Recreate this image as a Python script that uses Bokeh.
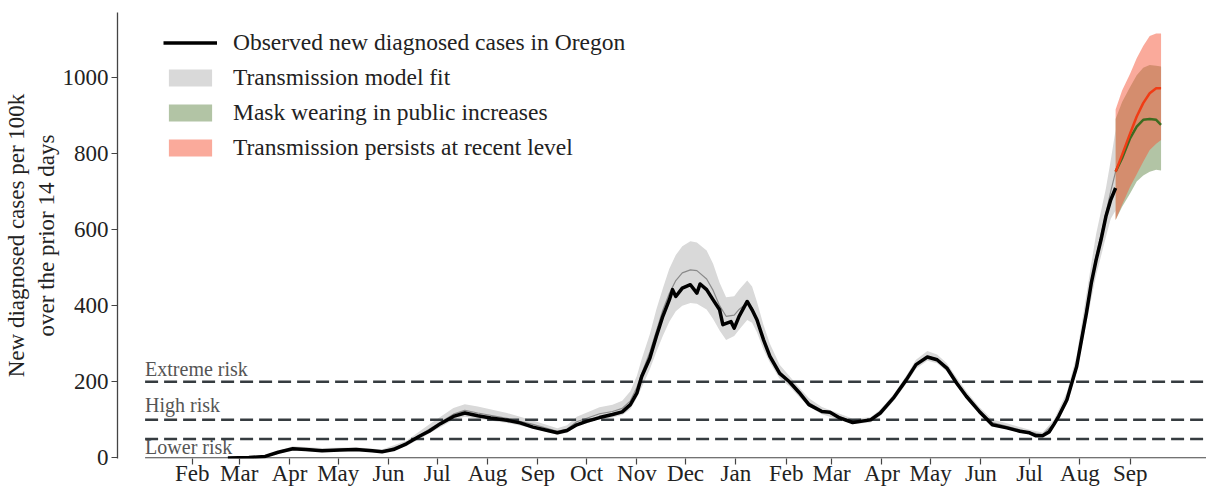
import pandas as pd
from bokeh.plotting import figure
from bokeh.models import Range1d, FixedTicker, Legend, LegendItem
from bokeh.embed import file_html
from bokeh.resources import INLINE
from bokeh.core.properties import value

FONT = "Liberation Serif"

# ---------------- data ----------------
obs_dates = ["2020-02-23","2020-03-07","2020-03-17","2020-03-25","2020-04-03","2020-04-11","2020-04-21",
             "2020-05-02","2020-05-12","2020-05-22","2020-05-28","2020-06-04","2020-06-12","2020-06-20",
             "2020-06-26","2020-07-03","2020-07-11","2020-07-18","2020-07-26","2020-08-03","2020-08-13",
             "2020-08-21","2020-08-29","2020-09-07","2020-09-13","2020-09-19","2020-09-25","2020-10-01",
             "2020-10-09","2020-10-17","2020-10-23","2020-10-28","2020-11-01","2020-11-04","2020-11-09",
             "2020-11-13","2020-11-17","2020-11-21","2020-11-23","2020-11-25","2020-11-29","2020-12-04",
             "2020-12-08","2020-12-10","2020-12-14","2020-12-18","2020-12-22","2020-12-24","2020-12-29",
             "2020-12-31","2021-01-03","2021-01-08","2021-01-11","2021-01-14","2021-01-18","2021-01-22",
             "2021-01-28","2021-02-03","2021-02-09","2021-02-15","2021-02-23","2021-02-28","2021-03-06",
             "2021-03-14","2021-03-25","2021-03-31","2021-04-08","2021-04-16","2021-04-22","2021-04-29",
             "2021-05-05","2021-05-11","2021-05-17","2021-05-23","2021-05-31","2021-06-08","2021-06-17",
             "2021-06-25","2021-07-01","2021-07-05","2021-07-09","2021-07-13","2021-07-16","2021-07-19",
             "2021-07-24","2021-07-27","2021-07-30","2021-08-02","2021-08-05","2021-08-08","2021-08-11",
             "2021-08-14","2021-08-17","2021-08-20","2021-08-23"]
obs_vals = [0, 1, 4, 15, 24, 22, 19, 21, 22, 19,
            16, 22, 37, 57, 70, 90, 109, 118, 111, 105,
            99, 92, 81, 72, 66, 72, 87, 96, 106, 114,
            121, 140, 170, 214, 262, 319, 372, 415, 442, 424,
            446, 455, 433, 457, 442, 415, 389, 350, 358, 341,
            372, 411, 389, 363, 311, 267, 222, 200, 172, 140,
            122, 120, 105, 93, 100, 118, 157, 205, 245, 265,
            258, 236, 197, 162, 122, 87, 79, 70, 66, 58,
            58, 68, 88, 110, 153, 197, 240, 310, 380, 459,
            520, 573, 634, 678, 709]

fit_dates = ["2020-02-29","2020-03-17","2020-04-03","2020-04-21","2020-05-12","2020-05-28","2020-06-12",
             "2020-06-26","2020-07-11","2020-07-18","2020-07-26","2020-08-13","2020-08-29","2020-09-13",
             "2020-09-19","2020-09-25","2020-10-09","2020-10-17","2020-10-23","2020-10-28","2020-11-01",
             "2020-11-04","2020-11-09","2020-11-13","2020-11-17","2020-11-21","2020-11-25","2020-11-29",
             "2020-12-04","2020-12-08","2020-12-14","2020-12-18","2020-12-22","2020-12-26","2020-12-31",
             "2021-01-03","2021-01-08","2021-01-11","2021-01-14","2021-01-18","2021-01-22","2021-01-28",
             "2021-02-03","2021-02-09","2021-02-15","2021-02-23","2021-03-06","2021-03-14","2021-03-25",
             "2021-03-31","2021-04-08","2021-04-16","2021-04-22","2021-04-29","2021-05-05","2021-05-11",
             "2021-05-17","2021-05-23","2021-05-31","2021-06-08","2021-06-17","2021-06-25","2021-07-01",
             "2021-07-09","2021-07-16","2021-07-24","2021-07-30","2021-08-05","2021-08-11","2021-08-17",
             "2021-08-20","2021-08-23"]
fit_mid = [0, 4, 25, 21, 23, 17, 38, 75, 115, 125, 118, 104, 88, 70, 76, 95, 116, 122, 130, 150, 185,
           222, 278, 333, 388, 432, 466, 486, 494, 492, 470, 440, 400, 372, 375, 390, 408, 395, 360, 310,
           270, 225, 200, 172, 145, 125, 108, 96, 100, 118, 157, 205, 245, 267, 260, 238, 200, 165, 125,
           93, 83, 74, 67, 61, 90, 157, 247, 392, 532, 642, 700, 752]
fit_lo = [0, 2, 20, 16, 18, 13, 31, 64, 100, 108, 103, 92, 78, 61, 66, 83, 101, 106, 113, 128, 158,
          185, 233, 278, 320, 358, 385, 400, 407, 405, 390, 365, 335, 310, 320, 337, 362, 355, 330, 285,
          250, 208, 188, 160, 135, 115, 100, 89, 93, 110, 148, 195, 234, 255, 249, 227, 190, 156, 117,
          86, 76, 67, 61, 55, 81, 141, 225, 355, 480, 580, 628, 650]
fit_hi = [2, 7, 31, 26, 28, 22, 45, 88, 131, 141, 135, 118, 98, 78, 86, 108, 133, 140, 150, 175, 215,
          260, 325, 390, 445, 497, 533, 556, 569, 566, 545, 510, 460, 422, 425, 442, 466, 450, 410, 350,
          300, 245, 215, 185, 157, 134, 116, 103, 107, 127, 166, 216, 258, 281, 272, 249, 211, 175, 134,
          101, 91, 81, 74, 67, 100, 173, 270, 430, 588, 708, 782, 862]

proj_dates = ["2021-08-23","2021-08-27","2021-09-01","2021-09-05","2021-09-09","2021-09-13","2021-09-17","2021-09-20"]
mask_mid = [752, 787, 840, 870, 888, 890, 888, 875]
mask_lo = [625, 660, 695, 726, 742, 752, 757, 755]
mask_hi = [890, 935, 975, 1005, 1025, 1032, 1030, 1028]
persist_mid = [752, 796, 853, 897, 932, 958, 971, 971]
persist_lo = [625, 665, 713, 745, 778, 809, 825, 835]
persist_hi = [915, 965, 1010, 1050, 1082, 1108, 1115, 1115]

risk_levels = [200, 100, 50]
risk_labels = ["Extreme risk", "High risk", "Lower risk"]
risk_label_y = [216, 120, 11]

month_ticks = ["2020-02-01","2020-03-01","2020-04-01","2020-05-01","2020-06-01","2020-07-01","2020-08-01",
               "2020-09-01","2020-10-01","2020-11-01","2020-12-01","2021-01-01","2021-02-01","2021-03-01",
               "2021-04-01","2021-05-01","2021-06-01","2021-07-01","2021-08-01","2021-09-01"]
month_labels = ["Feb","Mar","Apr","May","Jun","Jul","Aug","Sep","Oct","Nov","Dec","Jan","Feb","Mar",
                "Apr","May","Jun","Jul","Aug","Sep"]
y_ticks = [0, 200, 400, 600, 800, 1000]

series_labels = ["Observed new diagnosed cases in Oregon", "Transmission model fit",
                 "Mask wearing in public increases", "Transmission persists at recent level"]
y_label = "New diagnosed cases per 100k\nover the prior 14 days"

# ---------------- figure ----------------
x_start = pd.Timestamp("2019-12-17")
x_end = pd.Timestamp("2021-10-18")
line_start = pd.Timestamp("2020-01-03")

p = figure(width=1206, height=488, output_backend="svg", toolbar_location=None,
           x_axis_type="datetime",
           x_range=Range1d(x_start, x_end), y_range=Range1d(-1.5, 1170),
           min_border_left=117, min_border_right=0, min_border_top=12, min_border_bottom=28)
p.outline_line_color = None
p.grid.visible = False
p.background_fill_color = "white"

od = pd.to_datetime(obs_dates)
fd = pd.to_datetime(fit_dates)
pdts = pd.to_datetime(proj_dates)

r_fit = p.varea(x=fd, y1=fit_lo, y2=fit_hi, fill_color="#d9d9d9")
p.line(x=fd, y=fit_mid, line_color="#8a8a8a", line_width=1.2)

r_mask = p.varea(x=pdts, y1=mask_lo, y2=mask_hi, fill_color="#65894b", fill_alpha=0.5)
r_pers = p.varea(x=pdts, y1=persist_lo, y2=persist_hi, fill_color="#f55537", fill_alpha=0.5)

# risk thresholds and baseline
p.segment(x0=[line_start] * len(risk_levels), x1=[x_end] * len(risk_levels),
          y0=risk_levels, y1=risk_levels, line_color="#363c40", line_width=2.5, line_dash="13 6")
p.segment(x0=[line_start], x1=[x_end], y0=[0], y1=[0], line_color="#444444", line_width=1.3)
p.text(x=[line_start] * len(risk_labels), y=risk_label_y, text=risk_labels,
       text_font=value(FONT), text_font_size="20px", text_color="#555555",
       text_align="left", text_baseline="alphabetic", y_offset=-7)

r_obs = p.line(x=od, y=obs_vals, line_color="black", line_width=3.5, line_join="round")
p.line(x=pdts, y=mask_mid, line_color="#3d6b20", line_width=2.5)
p.line(x=pdts, y=persist_mid, line_color="#f03c15", line_width=2.5)

# axes
tick_ms = [t.timestamp() * 1000 for t in pd.to_datetime(month_ticks)]
xa = p.xaxis[0]
xa.ticker = FixedTicker(ticks=tick_ms)
xa.major_label_overrides = {ms: lbl for ms, lbl in zip(tick_ms, month_labels)}
xa.axis_line_color = None
xa.major_tick_out = 6
xa.major_tick_in = 0
xa.major_tick_line_color = "#444444"
xa.major_tick_line_width = 1.2
xa.minor_tick_line_color = None
xa.major_label_standoff = -4
xa.major_label_text_font = FONT
xa.major_label_text_font_size = "23px"
xa.major_label_text_color = "#222222"

ya = p.yaxis[0]
ya.ticker = FixedTicker(ticks=y_ticks)
ya.axis_line_color = "#444444"
ya.axis_line_width = 1.3
ya.major_tick_out = 6
ya.major_tick_in = 0
ya.major_tick_line_color = "#444444"
ya.major_tick_line_width = 1.2
ya.minor_tick_line_color = None
ya.major_label_standoff = 3
ya.major_label_text_font = FONT
ya.major_label_text_font_size = "23px"
ya.major_label_text_color = "#222222"
ya.axis_label = y_label
ya.axis_label_standoff = 1
ya.axis_label_text_font = FONT
ya.axis_label_text_font_size = "23px"
ya.axis_label_text_font_style = "normal"
ya.axis_label_text_color = "#222222"
ya.axis_label_text_align = "center"

legend = Legend(items=[LegendItem(label=series_labels[0], renderers=[r_obs]),
                       LegendItem(label=series_labels[1], renderers=[r_fit]),
                       LegendItem(label=series_labels[2], renderers=[r_mask]),
                       LegendItem(label=series_labels[3], renderers=[r_pers])],
                location=(46, 296), padding=0, margin=0, spacing=6,
                glyph_width=54, glyph_height=21, label_height=29, label_standoff=16,
                label_text_font=FONT, label_text_font_size="23.5px", label_text_color="#222222",
                border_line_color=None, background_fill_alpha=0)
p.add_layout(legend)

open("out.html", "w").write(file_html(p, INLINE))
